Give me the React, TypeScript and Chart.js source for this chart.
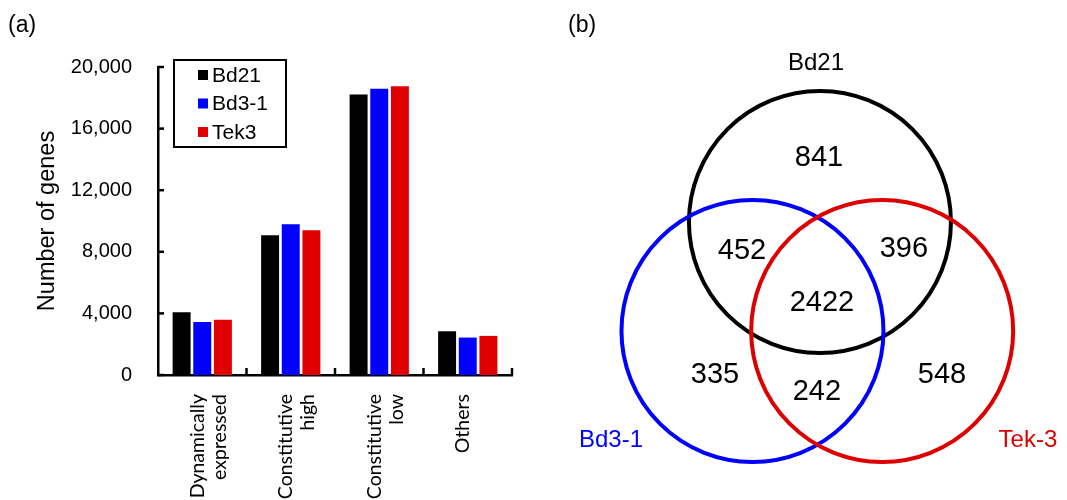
import React, { useEffect, useRef } from 'react';
import { Chart, registerables } from 'chart.js';

Chart.register(...registerables);

// ---------- data: panel (a) ----------
const categories: string[][] = [
  ['Dynamically', 'expressed'],
  ['Constitutive', 'high'],
  ['Constitutive', 'low'],
  ['Others'],
];
const seriesNames = ['Bd21', 'Bd3-1', 'Tek3'];
const bd21Values = [4080, 9080, 18210, 2840];
const bd31Values = [3440, 9790, 18580, 2430];
const tek3Values = [3590, 9400, 18750, 2540];
const yTickValues = [0, 4000, 8000, 12000, 16000, 20000];
const yAxisTitle = 'Number of genes';

// ---------- data: panel (b) ----------
const vennSetNames = ['Bd21', 'Bd3-1', 'Tek-3'];
const vennRegionNames = [
  'Bd21 only',
  'Bd21 & Bd3-1',
  'Bd21 & Tek-3',
  'Bd21 & Bd3-1 & Tek-3',
  'Bd3-1 only',
  'Bd3-1 & Tek-3',
  'Tek-3 only',
];
const vennCounts = [841, 452, 396, 2422, 335, 242, 548];

// ---------- layout & styles ----------
const SANS = '"Liberation Sans", Arial, Helvetica, sans-serif';
const LABEL_FONT = 'Lato, "Open Sans", sans-serif';
const seriesColors = ['#000000', '#0000FF', '#E00000'];
const vennColors = ['#000000', '#0000FF', '#DD0000'];
// circle layout in unit-radius coordinates
const vennCircleLayout = [
  { cx: 0.015, cy: 0.832, r: 1 },
  { cx: -0.5, cy: 0, r: 1 },
  { cx: 0.49, cy: 0, r: 1 },
];
const vennSetLabelLayout = [
  { x: -0.015, y: 2.046 },
  { x: -1.58, y: -0.832 },
  { x: 1.603, y: -0.832 },
];
const vennRegionLayout = [
  { x: 0.008, y: 1.328 },
  { x: -0.58, y: 0.618 },
  { x: 0.656, y: 0.634 },
  { x: 0.03, y: 0.221 },
  { x: -0.786, y: -0.328 },
  { x: -0.008, y: -0.458 },
  { x: 0.947, y: -0.328 },
];

const barDecorPlugin = {
  id: 'barDecor',
  afterDraw(chart: any) {
    const { ctx, chartArea, scales } = chart;
    const x = scales.x;
    const y = scales.y;
    ctx.save();
    ctx.strokeStyle = '#000';
    ctx.lineWidth = 2.5;
    // y tick marks (inside)
    y.ticks.forEach((t: any) => {
      const py = y.getPixelForValue(t.value);
      ctx.beginPath();
      ctx.moveTo(chartArea.left, py);
      ctx.lineTo(chartArea.left + 6, py);
      ctx.stroke();
    });
    // x tick marks at category boundaries (inside)
    const n = chart.data.labels.length;
    for (let i = 1; i <= n; i++) {
      const px = i < n ? (x.getPixelForValue(i - 1) + x.getPixelForValue(i)) / 2 : chartArea.right;
      ctx.beginPath();
      ctx.moveTo(px, chartArea.bottom);
      ctx.lineTo(px, chartArea.bottom - 7);
      ctx.stroke();
    }
    // legend box
    const lx = chartArea.left + 16;
    const ly = chartArea.top - 7;
    const lw = 112;
    const lh = 87;
    ctx.lineWidth = 2;
    ctx.strokeRect(lx, ly, lw, lh);
    ctx.font = `21px ${SANS}`;
    ctx.textBaseline = 'middle';
    ctx.textAlign = 'left';
    chart.data.datasets.forEach((ds: any, i: number) => {
      const cy = ly + 15 + i * 28.5;
      ctx.fillStyle = ds.backgroundColor;
      ctx.fillRect(lx + 24, cy - 5, 10, 10);
      ctx.fillStyle = '#000';
      ctx.fillText(ds.label, lx + 38, cy + 1);
    });
    // panel letter
    ctx.font = `23px ${SANS}`;
    ctx.fillStyle = '#000';
    ctx.textBaseline = 'middle';
    ctx.fillText('(a)', 8, 26);
    ctx.restore();
  },
};

const vennPlugin = {
  id: 'vennDraw',
  afterDraw(chart: any) {
    const { ctx, scales } = chart;
    const x = scales.x;
    const y = scales.y;
    ctx.save();
    ctx.lineWidth = 4;
    vennCircleLayout.forEach((c, i) => {
      const px = x.getPixelForValue(c.cx);
      const py = y.getPixelForValue(c.cy);
      const pr = x.getPixelForValue(c.cx + c.r) - px;
      ctx.beginPath();
      ctx.strokeStyle = vennColors[i];
      ctx.arc(px, py, pr, 0, Math.PI * 2);
      ctx.stroke();
    });
    ctx.textAlign = 'center';
    ctx.textBaseline = 'middle';
    ctx.font = `24px ${SANS}`;
    vennSetNames.forEach((name, i) => {
      const p = vennSetLabelLayout[i];
      ctx.fillStyle = vennColors[i];
      ctx.fillText(name, x.getPixelForValue(p.x), y.getPixelForValue(p.y));
    });
    ctx.font = `29px ${SANS}`;
    ctx.fillStyle = '#000';
    const meta = chart.getDatasetMeta(0);
    meta.data.forEach((el: any, i: number) => {
      ctx.fillText(String(vennCounts[i]), el.x, el.y + 1);
    });
    ctx.textAlign = 'left';
    ctx.font = `23px ${SANS}`;
    ctx.fillText('(b)', 28, 26);
    ctx.restore();
  },
};

export default function App() {
  const barRef = useRef<HTMLCanvasElement>(null);
  const vennRef = useRef<HTMLCanvasElement>(null);

  useEffect(() => {
    const seriesValues = [bd21Values, bd31Values, tek3Values];
    const bar = new Chart(barRef.current as HTMLCanvasElement, {
      type: 'bar',
      data: {
        labels: categories,
        datasets: seriesNames.map((name, i) => ({
          label: name,
          data: seriesValues[i],
          backgroundColor: seriesColors[i],
          borderWidth: 0,
          categoryPercentage: 0.7,
          barPercentage: 0.87,
        })),
      },
      options: {
        responsive: false,
        animation: false,
        events: [],
        layout: { padding: { top: 67, right: 28, left: 0, bottom: 0 } },
        plugins: { legend: { display: false }, tooltip: { enabled: false } },
        scales: {
          x: {
            grid: { display: false },
            border: { display: true, color: '#000', width: 2.5 },
            ticks: {
              color: '#000',
              font: { family: LABEL_FONT, size: 19.5, lineHeight: 1.14 },
              minRotation: 90,
              maxRotation: 90,
              padding: 11,
              labelOffset: -5,
              autoSkip: false,
            },
            afterFit: (s: any) => {
              s.height = 125;
            },
          },
          y: {
            min: 0,
            max: 20000,
            afterBuildTicks: (s: any) => {
              s.ticks = yTickValues.map((v) => ({ value: v }));
            },
            grid: { display: false },
            border: { display: true, color: '#000', width: 2.5 },
            ticks: {
              color: '#000',
              font: { family: SANS, size: 20 },
              padding: 18,
              callback: (v: any) => Number(v).toLocaleString('en-US'),
            },
            title: {
              display: true,
              text: yAxisTitle,
              color: '#000',
              font: { family: SANS, size: 23.5 },
              padding: { top: 33, bottom: 0 },
            },
            afterFit: (s: any) => {
              s.width = 158;
            },
          },
        },
      },
      plugins: [barDecorPlugin],
    });

    const venn = new Chart(vennRef.current as HTMLCanvasElement, {
      type: 'scatter',
      data: {
        datasets: [
          {
            label: 'Venn regions',
            data: vennRegionLayout.map((p) => ({ x: p.x, y: p.y })),
            pointRadius: 0,
            pointHoverRadius: 0,
          },
        ],
        labels: vennRegionNames,
      },
      options: {
        responsive: false,
        animation: false,
        events: [],
        layout: { padding: 0 },
        plugins: { legend: { display: false }, tooltip: { enabled: false } },
        scales: {
          x: { display: false, min: -2.122, max: 1.901 },
          y: { display: false, min: -1.29, max: 2.527 },
        },
      },
      plugins: [vennPlugin],
    });

    return () => {
      bar.destroy();
      venn.destroy();
    };
  }, []);

  return (
    <div
      style={{
        position: 'absolute',
        left: 0,
        top: 0,
        width: 1067,
        height: 500,
        background: '#fff',
        overflow: 'hidden',
      }}
    >
      <canvas ref={barRef} width={540} height={500} style={{ position: 'absolute', left: 0, top: 0 }} />
      <canvas ref={vennRef} width={527} height={500} style={{ position: 'absolute', left: 540, top: 0 }} />
    </div>
  );
}
